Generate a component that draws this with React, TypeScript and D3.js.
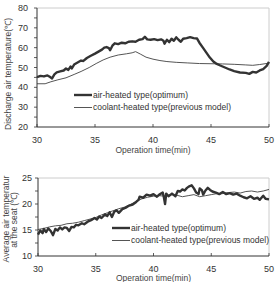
import React from 'react';
import * as d3 from 'd3';

// discharge air temperature (top chart), [minute, °C]
const dischargeAirHeated: [number, number][] = [
  [30, 45.2], [30.3, 45.8], [30.6, 45.5], [30.9, 46], [31.1, 45.3], [31.3, 44.5], [31.5, 46.5],
  [31.7, 47.5], [32, 48], [32.3, 48.5], [32.5, 49.5], [32.7, 48.8], [32.9, 50.5], [33, 49.5],
  [33.2, 51.5], [33.5, 52.5], [33.8, 53.5], [34, 53.3], [34.3, 54.8], [34.6, 55.8], [35, 57],
  [35.3, 58], [35.6, 59], [35.8, 60], [36, 60.3], [36.2, 59.8], [36.3, 58.7], [36.5, 61],
  [36.7, 62.2], [37, 61.8], [37.3, 62.5], [37.6, 62.2], [37.9, 63], [38.2, 63.2], [38.5, 63],
  [38.8, 64], [39.1, 64.3], [39.3, 65.5], [39.5, 64.2], [39.8, 64], [40.1, 64.3], [40.4, 63.8],
  [40.7, 64.2], [40.9, 63.5], [41, 62], [41.2, 64], [41.4, 62.8], [41.6, 64.5], [41.8, 63.5],
  [42, 65.2], [42.2, 64], [42.4, 63], [42.6, 64.5], [42.9, 64.8], [43.2, 65.3], [43.5, 64.8],
  [43.8, 64.6], [44, 62.5], [44.3, 60], [44.6, 57.5], [44.9, 55], [45.2, 53], [45.5, 51.8],
  [45.8, 51], [46.2, 50], [46.6, 49], [47, 48.2], [47.5, 47.5], [48, 47.3], [48.3, 46.8],
  [48.6, 47.8], [48.9, 47.5], [49.2, 48.5], [49.5, 49.2], [49.8, 50.8], [50, 52.8],
];

const dischargeCoolant: [number, number][] = [
  [30, 41.8], [30.7, 41.8], [31.2, 42.8], [31.8, 43.8], [32.5, 44.8], [33.2, 46.5], [33.8, 48],
  [34.5, 50], [35.1, 52], [35.7, 53.8], [36.3, 55.2], [37, 56.3], [37.7, 56.9], [38.2, 57.4],
  [38.5, 58], [38.9, 56.8], [39.4, 55.2], [40, 54.2], [40.6, 53.5], [41.2, 53], [42, 52.6],
  [43, 52.3], [44, 52], [45, 51.9], [46, 51.8], [47, 51.6], [48, 51.3], [48.6, 51.1],
  [49.2, 51.5], [50, 52.2],
];

// average air temperature at the seat (bottom chart)
const seatAirHeated: [number, number][] = [
  [30, 14.1], [30.2, 14.9], [30.4, 14.4], [30.5, 15.2], [30.7, 14.6], [30.9, 15.3], [31.1, 14.8],
  [31.3, 14], [31.5, 15.2], [31.7, 14.9], [31.9, 15.5], [32.1, 15.1], [32.3, 15.5], [32.5, 15.4],
  [32.7, 14.8], [32.9, 15.6], [33.1, 15.5], [33.3, 16], [33.5, 15.9], [33.8, 16.3], [34, 16.1],
  [34.3, 16.6], [34.6, 16.9], [34.9, 17.3], [35.1, 17], [35.3, 17.6], [35.5, 17.3], [35.8, 18],
  [36, 17.7], [36.2, 18.4], [36.4, 17.5], [36.6, 18.5], [36.8, 18.8], [37, 18.3], [37.3, 19],
  [37.6, 19.3], [37.9, 19.7], [38.2, 19.9], [38.5, 20.4], [38.7, 20.8], [38.8, 21.4], [39.1, 21.2],
  [39.4, 21.8], [39.7, 21.6], [40, 21.9], [40.3, 21.4], [40.5, 21.8], [40.8, 22.2], [40.9, 21.3],
  [41, 20], [41.1, 22], [41.3, 21.5], [41.6, 22], [41.9, 21.5], [42.1, 22.5], [42.3, 22.4],
  [42.5, 22.8], [42.7, 22.6], [42.9, 23.1], [43.1, 23.4], [43.3, 23.6], [43.5, 23], [43.7, 22.2],
  [43.9, 21.9], [44, 23], [44.2, 22.6], [44.3, 21.8], [44.5, 22.6], [44.7, 23.1], [44.9, 22.7],
  [45.1, 22.4], [45.4, 22.2], [45.7, 21.9], [46, 22.3], [46.3, 21.9], [46.6, 22.1], [46.9, 21.8],
  [47.2, 22], [47.5, 21.6], [47.8, 21.3], [48.1, 21.1], [48.4, 21.5], [48.7, 21], [49, 21.2],
  [49.2, 20.8], [49.5, 21.6], [49.7, 21], [50, 20.9],
];

const seatCoolant: [number, number][] = [
  [30, 15.1], [30.5, 15.3], [31, 15.6], [31.5, 15.8], [32, 15.9], [32.5, 16.2], [33, 16.3],
  [33.5, 16.5], [34, 16.8], [34.5, 17.1], [35, 17.4], [35.5, 17.9], [36, 18.3], [36.5, 18.7],
  [37, 19.1], [37.5, 19.4], [38, 19.9], [38.5, 20.5], [39, 21], [39.5, 21.3], [40, 21.5],
  [40.5, 21.6], [41, 21.5], [41.5, 21.8], [42, 21.7], [42.5, 21.4], [43, 21.6], [43.5, 21.8],
  [44, 21.4], [44.5, 21.6], [45, 21.8], [45.5, 22], [46, 22], [46.5, 22.2], [47, 22.3],
  [47.5, 22.1], [48, 22.4], [48.5, 22.5], [49, 22.3], [49.5, 22.5], [50, 22.8],
];

const timeTicks = [30, 35, 40, 45, 50];
const topTicks = [20, 30, 40, 50, 60, 70, 80];
const bottomTicks = [10, 15, 20, 25];
const legendLabels = ['air-heated type(optimum)', 'coolant-heated type(previous model)'];
const xLabel = 'Operation time(min)';

const FONT = '"Liberation Sans", Arial, sans-serif';
const INK = '#333';

type PanelProps = {
  top: number;
  bottom: number;
  left: number;
  right: number;
  yDomain: [number, number];
  yTicks: number[];
  minorStep: number;
  air: [number, number][];
  coolant: [number, number][];
  legendX: number;
  legendY: number;
  fontSize: number;
  yLabelEnd: number;
  xTickY: number;
  xLabelY: number;
};

const Panel = (p: PanelProps) => {
  const x = d3.scaleLinear().domain([30, 50]).range([p.left, p.right]);
  const y = d3.scaleLinear().domain(p.yDomain).range([p.bottom, p.top]);
  const line = d3.line<[number, number]>().x(d => x(d[0])).y(d => y(d[1]));
  const minor = d3.range(p.yDomain[0], p.yDomain[1] + 0.001, p.minorStep);

  return (
    <g fontFamily={FONT} fill={INK}>
      {/* light frame on top / right */}
      <line x1={p.left} x2={p.right} y1={p.top} y2={p.top} stroke="#ccc" strokeWidth={1} />
      <line x1={p.right} x2={p.right} y1={p.top} y2={p.bottom} stroke="#ccc" strokeWidth={1} />

      <path d={line(p.coolant) ?? ''} fill="none" stroke="#555" strokeWidth={1} />
      <path d={line(p.air) ?? ''} fill="none" stroke="#333" strokeWidth={2.4} strokeLinejoin="round" />

      {/* axes */}
      <line x1={p.left} x2={p.right} y1={p.bottom} y2={p.bottom} stroke={INK} strokeWidth={1} />
      <line x1={p.left} x2={p.left} y1={p.top} y2={p.bottom} stroke={INK} strokeWidth={1} />
      {minor.map(v => (
        <line key={'m' + v} x1={p.left - 3} x2={p.left} y1={y(v)} y2={y(v)} stroke={INK} strokeWidth={0.8} />
      ))}
      {timeTicks.map(t => (
        <line key={'xt' + t} x1={x(t)} x2={x(t)} y1={p.bottom} y2={p.bottom - 3} stroke={INK} strokeWidth={0.8} />
      ))}
      {p.yTicks.map(v => (
        <text key={'yl' + v} x={p.yLabelEnd} y={y(v)} dy="0.35em" textAnchor="end" fontSize={9}>
          {v}
        </text>
      ))}
      {timeTicks.map(t => (
        <text key={'xl' + t} x={x(t)} y={p.xTickY} textAnchor="middle" fontSize={9}>
          {t}
        </text>
      ))}
      <text x={(p.left + p.right) / 2} y={p.xLabelY} textAnchor="middle" fontSize={p.fontSize} fill="#444">
        {xLabel}
      </text>

      {/* legend */}
      <line x1={p.legendX} x2={p.legendX + 18} y1={p.legendY} y2={p.legendY} stroke="#333" strokeWidth={2.4} />
      <text x={p.legendX + 19} y={p.legendY} dy="0.35em" fontSize={p.fontSize}>{legendLabels[0]}</text>
      <line x1={p.legendX} x2={p.legendX + 18} y1={p.legendY + 12.5} y2={p.legendY + 12.5} stroke="#555" strokeWidth={1} />
      <text x={p.legendX + 19} y={p.legendY + 12.5} dy="0.35em" fontSize={p.fontSize}>{legendLabels[1]}</text>
    </g>
  );
};

export default function App() {
  return (
    <svg width={278} height={282} style={{ display: 'block', position: 'absolute', left: 0, top: 0 }}>
      <rect width={278} height={282} fill="#fff" />
      <Panel
        top={8} bottom={127} left={37} right={269}
        yDomain={[20, 80]} yTicks={topTicks} minorStep={5}
        air={dischargeAirHeated} coolant={dischargeCoolant}
        legendX={74} legendY={95} fontSize={8.5}
        yLabelEnd={28} xTickY={143} xLabelY={152.5}
      />
      <text
        transform="translate(11,74) rotate(-90)" textAnchor="middle"
        fontFamily={FONT} fontSize={8.5} fill="#444"
      >
        Discharge air temperature(℃)
      </text>

      <Panel
        top={178} bottom={256} left={38} right={269}
        yDomain={[10, 25]} yTicks={bottomTicks} minorStep={2.5}
        air={seatAirHeated} coolant={seatCoolant}
        legendX={112} legendY={228} fontSize={8.5}
        yLabelEnd={32} xTickY={271.5} xLabelY={280.5}
      />
      <text
        transform="translate(8.5,219) rotate(-90)" textAnchor="middle"
        fontFamily={FONT} fontSize={8.5} fill="#444"
      >
        Average air temperatur
      </text>
      <text
        transform="translate(17,220) rotate(-90)" textAnchor="middle"
        fontFamily={FONT} fontSize={8.5} fill="#444"
      >
        at the seat (℃)
      </text>
    </svg>
  );
}
